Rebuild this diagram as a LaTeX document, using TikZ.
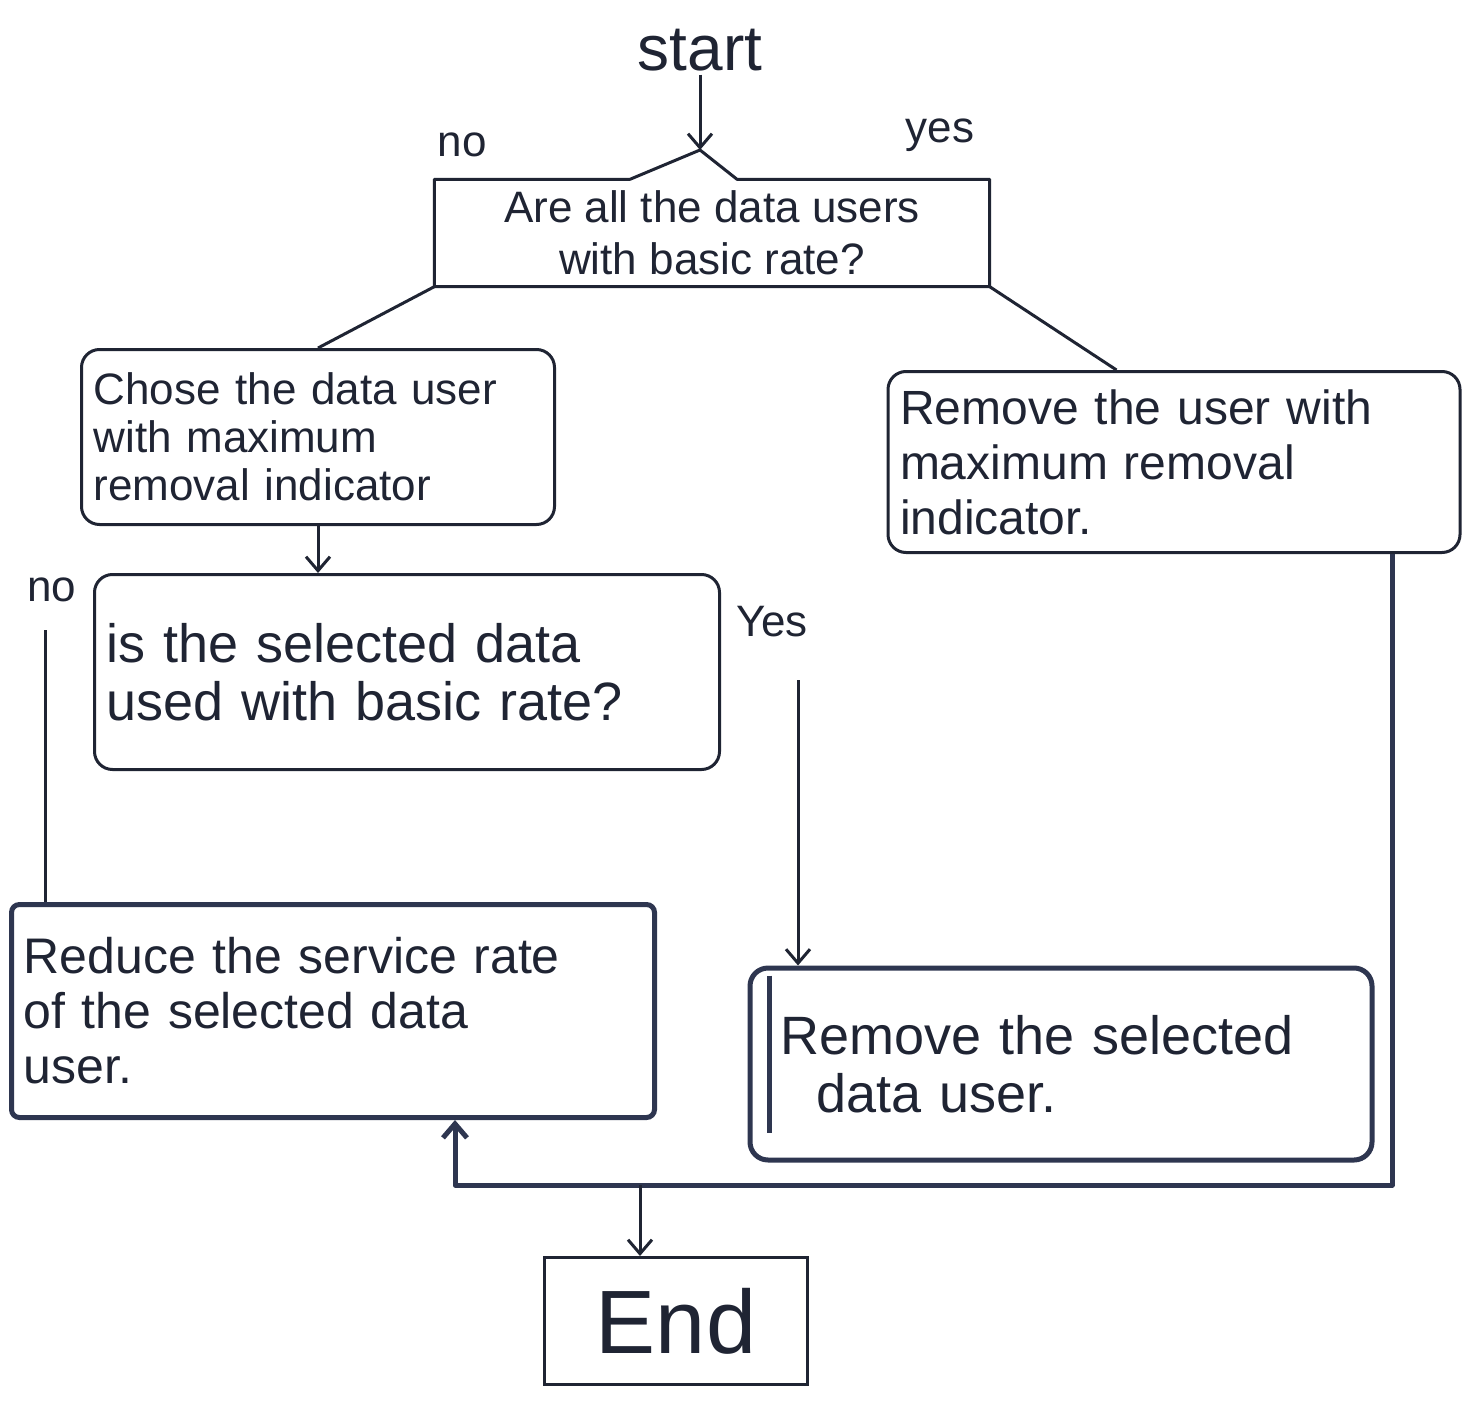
\documentclass[tikz,border=0pt]{standalone}
\usepackage{fontspec}
\setmainfont{Liberation Sans}
\usetikzlibrary{arrows.meta,calc}
\definecolor{inkc}{HTML}{1F2433}
\definecolor{inkb}{HTML}{2E3650}
\begin{document}
\begin{tikzpicture}[x=1pt,y=-1pt,
  line/.style={draw=inkc, line width=3pt},
  heavy/.style={draw=inkb, line width=5pt},
  arrow/.style={-{Straight Barb[length=14pt,width=24pt]}},
  boxbase/.style={inner sep=4pt, text=inkc},
  rbox/.style={boxbase, inner xsep=12pt, draw=inkc, line width=3pt, rounded corners=18pt, align=left},
  hbox/.style={boxbase, inner xsep=12pt, draw=inkb, line width=5pt, align=left},
  lbl/.style={text=inkc, inner sep=2pt, font=\fontsize{44}{48}\selectfont}
]
\useasboundingbox (0,0) rectangle (1479,1404);

% start
\node[text=inkc, font=\fontsize{64}{64}\selectfont] (start) at (700,50) {start};
\coordinate (peak) at (700,150);

% decision 1
\node[boxbase, minimum width=555pt, minimum height=107pt, align=center,
      font=\fontsize{44}{52}\selectfont] (dec1) at (712,233)
      {Are all the data users\\with basic rate?};
\draw[line, line join=round] (dec1.north west) -- ([xshift=-82pt]dec1.north) -- (peak)
   -- ([xshift=25pt]dec1.north) -- (dec1.north east) -- (dec1.south east)
   -- (dec1.south west) -- cycle;
\draw[line, arrow] (start) -- (peak);
\node[lbl] (no1) at (462,145) {no};
\node[lbl] (yes1) at (940,135) {yes};

% left process
\node[rbox, text width=449pt, minimum height=175pt,
      font=\fontsize{44}{48}\selectfont] (chose) at (318,437)
      {Chose the data user\\with maximum\\removal indicator};
% right process
\node[rbox, text width=548pt, minimum height=181pt,
      font=\fontsize{48}{55}\selectfont] (remmax) at (1174,462)
      {Remove the user with\\maximum removal\\indicator.};

\draw[line] (dec1.south west) -- (chose.north);
\draw[line] (dec1.south east) -- ($(remmax.north west)!0.4!(remmax.north east)$);

% decision 2
\node[rbox, text width=601pt, minimum height=195pt,
      font=\fontsize{54}{58}\selectfont] (dec2) at (407,672)
      {is the selected data\\used with basic rate?};
\draw[line, arrow] (chose.south) -- (chose.south |- dec2.north);
\node[lbl] (no2) at (52,590) {no};
\node[lbl] (yes2) at (772,622) {Yes};

% bottom processes
\node[hbox, rounded corners=8pt, text width=619pt, minimum height=213pt,
      font=\fontsize{50}{55}\selectfont] (reduce) at (333,1011)
      {Reduce the service rate\\of the selected data\\user.};
\node[hbox, rounded corners=18pt, inner xsep=30pt, text width=562pt, minimum height=192pt,
      font=\fontsize{54}{58}\selectfont] (remsel) at (1061,1064)
      {Remove the selected\\\ \ data user.};
\draw[heavy] ([xshift=22pt,yshift=-10pt]remsel.north west) -- ([xshift=22pt,yshift=30pt]remsel.south west);

% end
\node[boxbase, draw=inkc, line width=3pt, minimum width=263pt, minimum height=127pt,
      font=\fontsize{90}{90}\selectfont] (End) at (676,1321) {End};

% connectors from decision 2
\coordinate (noTop) at (45,630);
\draw[line] (noTop) -- (noTop |- reduce.north);
\coordinate (yesTop) at (798,680);
\draw[line, arrow] (yesTop) -- (yesTop |- remsel.north);

% loop from right box
\coordinate (rc) at (1392,1185);
\coordinate (lc) at (455,1185);
\coordinate (ec) at (640,1185);
\draw[heavy, arrow, line join=round] (remmax.south -| rc) -- (rc) -- (lc) -- (lc |- reduce.south);
\draw[line, arrow] (ec) -- (ec |- End.north);
\end{tikzpicture}
\end{document}
